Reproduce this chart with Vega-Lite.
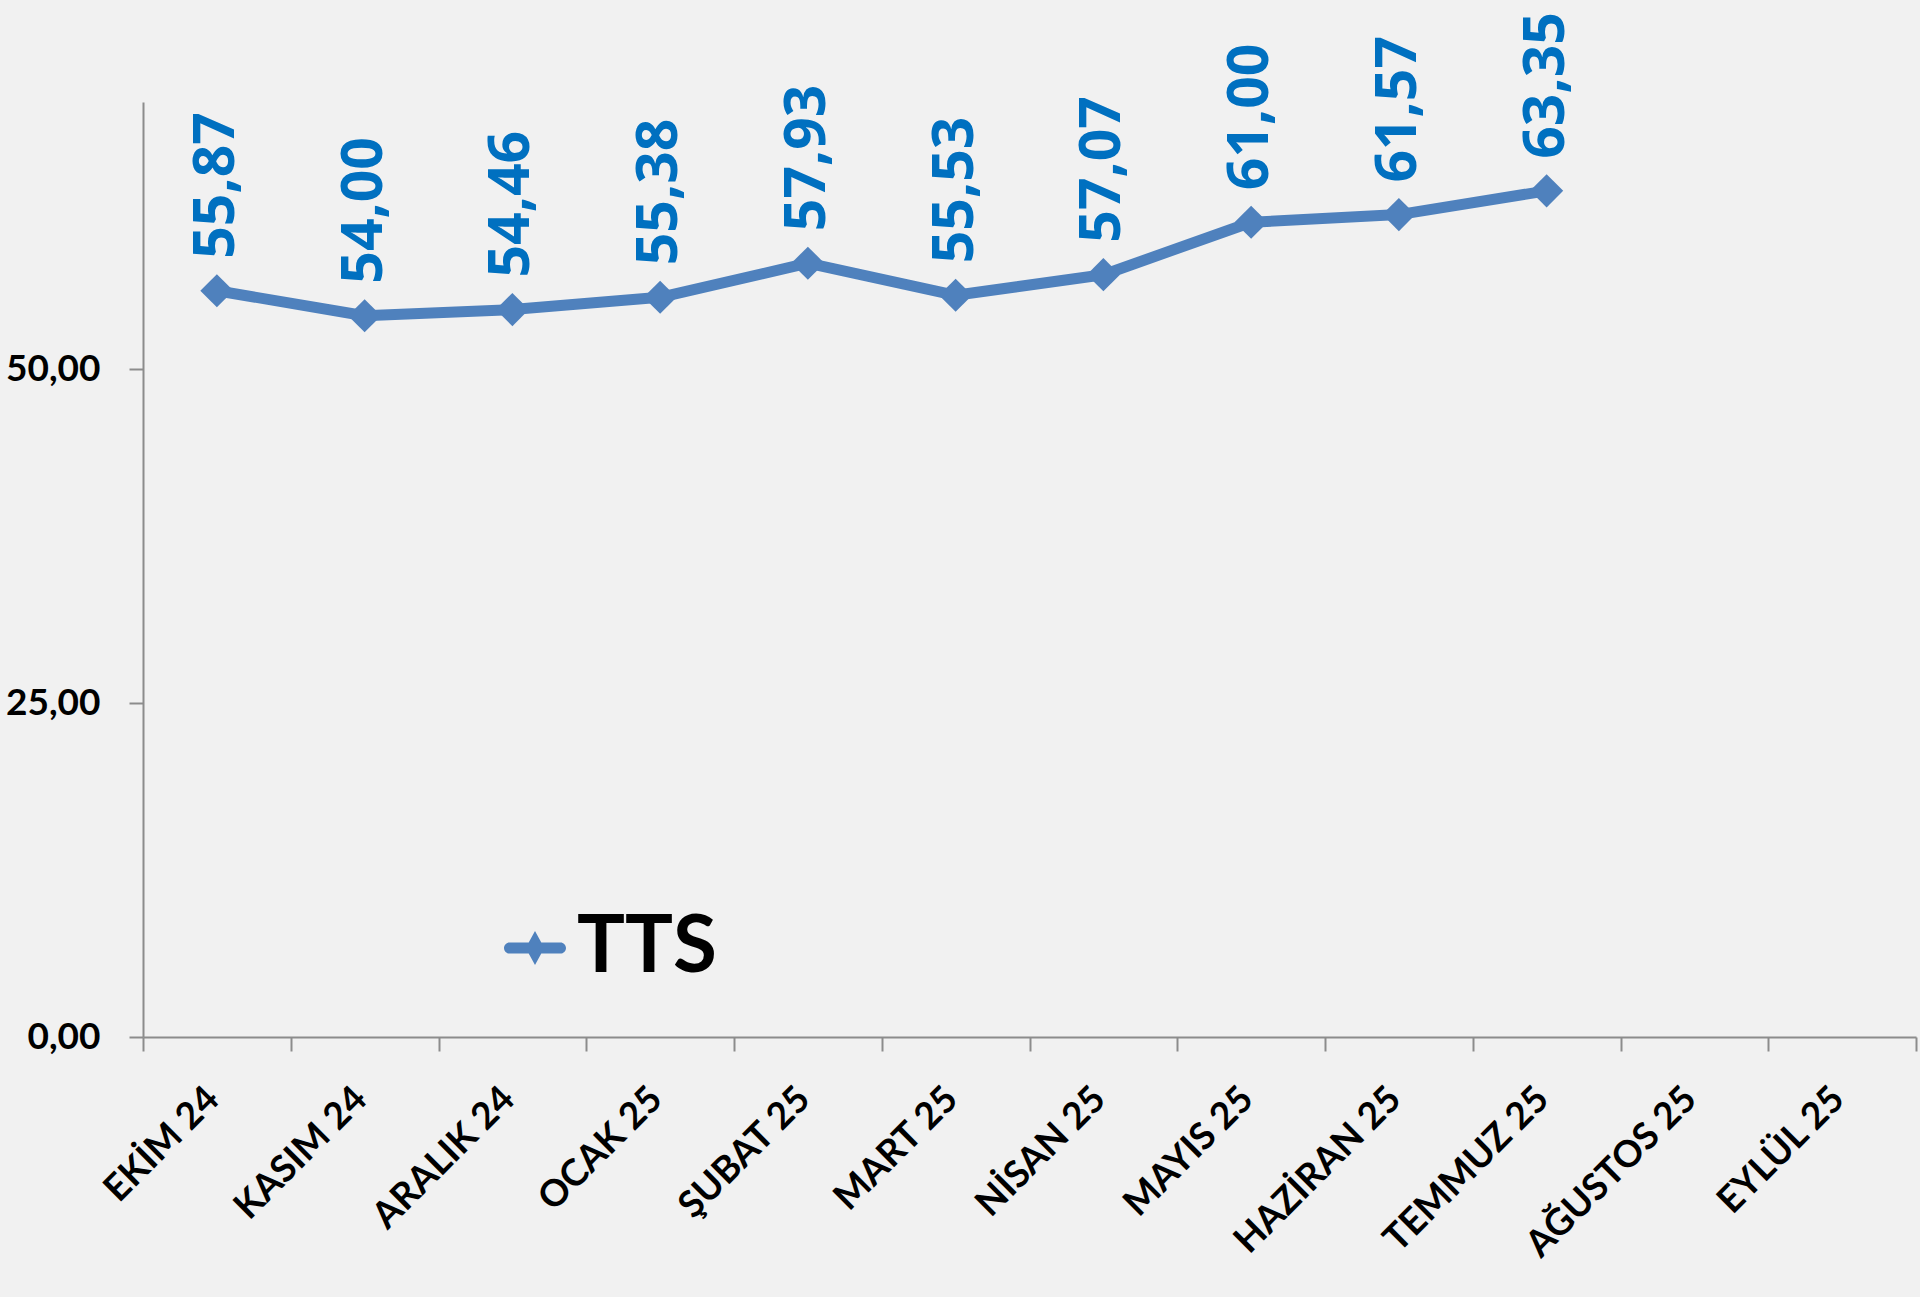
{
  "$schema": "https://vega.github.io/schema/vega-lite/v6.json",
  "width": 1773,
  "height": 935,
  "autosize": {"type": "none"},
  "padding": {"left": 143, "top": 102, "right": 4, "bottom": 260},
  "background": "#f1f1f1",
  "config": {
    "view": {"stroke": null},
    "font": "Lato",
    "locale": {"number": {"decimal": ",", "thousands": ".", "grouping": [3], "currency": ["", " ₺"]}}
  },
  "data": {
    "values": [
      {"ay": "EKİM 24", "deger": 55.87, "seri": "TTS"},
      {"ay": "KASIM 24", "deger": 54.00, "seri": "TTS"},
      {"ay": "ARALIK 24", "deger": 54.46, "seri": "TTS"},
      {"ay": "OCAK 25", "deger": 55.38, "seri": "TTS"},
      {"ay": "ŞUBAT 25", "deger": 57.93, "seri": "TTS"},
      {"ay": "MART 25", "deger": 55.53, "seri": "TTS"},
      {"ay": "NİSAN 25", "deger": 57.07, "seri": "TTS"},
      {"ay": "MAYIS 25", "deger": 61.00, "seri": "TTS"},
      {"ay": "HAZİRAN 25", "deger": 61.57, "seri": "TTS"},
      {"ay": "TEMMUZ 25", "deger": 63.35, "seri": "TTS"}
    ]
  },
  "encoding": {
    "x": {
      "field": "ay",
      "type": "nominal",
      "sort": null,
      "scale": {
        "type": "band",
        "paddingInner": 0,
        "paddingOuter": 0,
        "domain": ["EKİM 24", "KASIM 24", "ARALIK 24", "OCAK 25", "ŞUBAT 25", "MART 25", "NİSAN 25", "MAYIS 25", "HAZİRAN 25", "TEMMUZ 25", "AĞUSTOS 25", "EYLÜL 25"]
      },
      "axis": {
        "title": null,
        "tickBand": "extent",
        "tickSize": 14,
        "tickWidth": 2,
        "tickColor": "#8c8c8c",
        "domainColor": "#8c8c8c",
        "domainWidth": 2,
        "labelAngle": -45,
        "labelAlign": "right",
        "labelBaseline": "middle",
        "labelFont": "Lato",
        "labelFontWeight": "bold",
        "labelFontSize": 37,
        "labelColor": "#000000",
        "labelPadding": 42,
        "labelOffset": -4,
        "labelLimit": 0,
        "labelOverlap": false,
        "labelBound": false,
        "grid": false
      }
    },
    "y": {
      "field": "deger",
      "type": "quantitative",
      "scale": {"domain": [0, 70], "nice": false},
      "axis": {
        "title": null,
        "values": [0, 25, 50],
        "format": ".2f",
        "tickSize": 14,
        "tickWidth": 2,
        "tickColor": "#8c8c8c",
        "domainColor": "#8c8c8c",
        "domainWidth": 2,
        "labelFont": "Lato",
        "labelFontWeight": "bold",
        "labelFontSize": 37,
        "labelColor": "#000000",
        "labelPadding": 29,
        "grid": false
      }
    }
  },
  "layer": [
    {
      "mark": {"type": "line", "color": "#4F81BD", "strokeWidth": 11, "strokeJoin": "round"}
    },
    {
      "mark": {"type": "point", "shape": "diamond", "filled": true, "size": 1100, "opacity": 1},
      "encoding": {
        "color": {
          "field": "seri",
          "type": "nominal",
          "scale": {"range": ["#4F81BD"]},
          "legend": {
            "title": null,
            "orient": "none",
            "legendX": 352,
            "legendY": 806,
            "padding": 0,
            "symbolType": "M-0.82,-0.18L0.82,-0.18A0.18,0.18 0 0 1 0.82,0.18L-0.82,0.18A0.18,0.18 0 0 1 -0.82,-0.18ZM0,-0.55L0.3,0L0,0.55L-0.3,0Z",
            "symbolSize": 3844,
            "symbolStrokeWidth": 0,
            "symbolFillColor": "#4F81BD",
            "labelFont": "Lato",
            "labelFontSize": 80,
            "labelFontWeight": "bold",
            "labelColor": "#000000",
            "labelOffset": 2,
            "labelLimit": 400,
            "encode": {
              "symbols": {
                "update": {
                  "shape": {"value": "M-0.82,-0.18L0.82,-0.18A0.18,0.18 0 0 1 0.82,0.18L-0.82,0.18A0.18,0.18 0 0 1 -0.82,-0.18ZM0,-0.55L0.3,0L0,0.55L-0.3,0Z"},
                  "fill": {"value": "#4F81BD"},
                  "strokeWidth": {"value": 0},
                  "opacity": {"value": 1}
                }
              }
            }
          }
        }
      }
    },
    {
      "mark": {
        "type": "text",
        "angle": 270,
        "align": "left",
        "baseline": "middle",
        "dx": 32,
        "font": "Noto Sans",
        "fontWeight": "bold",
        "fontSize": 57,
        "color": "#0070C0"
      },
      "encoding": {
        "text": {"field": "deger", "type": "quantitative", "format": ".2f"}
      }
    }
  ]
}
